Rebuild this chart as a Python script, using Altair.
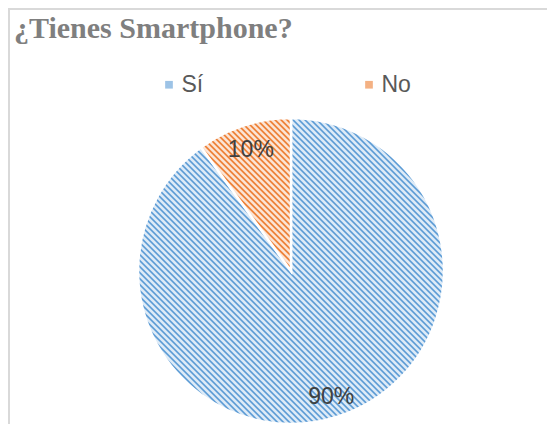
import math
import altair as alt
import pandas as pd

# ---- data ----
title_text = "¿Tienes Smartphone?"
categories = ["Sí", "No"]
values = [90, 10]
labels = ["90%", "10%"]
order = [0, 1]

df = pd.DataFrame({"cat": categories, "value": values, "label": labels, "ord": order})

# ---- styling ----
BLUE_DARK, BLUE_LIGHT = "#5b9bd5", "#deebf7"
ORANGE_DARK, ORANGE_LIGHT = "#ed7d31", "#fbe5d6"
BLUE_MID, ORANGE_MID = "#9dc3e6", "#f4b183"

W = H = 306
R = 153
PAD = {"left": 130, "top": 110, "right": 103, "bottom": 0}


def arc_bbox(a0, a1, r):
    pts = [(0.0, 0.0), (r * math.sin(a0), -r * math.cos(a0)), (r * math.sin(a1), -r * math.cos(a1))]
    for k in range(0, 9):
        a = k * math.pi / 2
        if a0 - 1e-9 <= a <= a1 + 1e-9:
            pts.append((r * math.sin(a), -r * math.cos(a)))
    xs = [p[0] for p in pts]
    ys = [p[1] for p in pts]
    return max(xs) - min(xs), max(ys) - min(ys)


def stripe_gradient(w, h, dark, light, period=6.0):
    lam = (w + h) / (w * w + h * h)
    x2 = lam * w
    y2 = 1 - lam * h
    n = (w + h) / period
    per = 1.0 / n
    profile = [(0.0, light), (0.2, light), (0.45, dark), (0.6, dark), (0.85, light)]
    stops = []
    k = 0
    while k * per < 1.0:
        for frac, col in profile:
            off = (k + frac) * per
            if off <= 1.0:
                stops.append({"offset": round(off, 6), "color": col})
        k += 1
    stops.append({"offset": 1.0, "color": light})
    return {"gradient": "linear", "x1": 0, "y1": 1, "x2": round(x2, 6), "y2": round(y2, 6), "stops": stops}


total = sum(values)
a_si = 2 * math.pi * values[0] / total
w_si, h_si = arc_bbox(0, a_si, R)
w_no, h_no = arc_bbox(a_si, 2 * math.pi, R)
grad_si = stripe_gradient(w_si, h_si, BLUE_DARK, BLUE_LIGHT)
grad_no = stripe_gradient(w_no, h_no, ORANGE_DARK, ORANGE_LIGHT)

base = alt.Chart(df)

theta = alt.Theta("value:Q", stack=True)
ordr = alt.Order("ord:Q")

legend_layer = base.mark_arc(outerRadius=R, stroke="white", strokeWidth=2.5).encode(
    theta=theta,
    order=ordr,
    color=alt.Color(
        "cat:N",
        scale=alt.Scale(domain=categories, range=[BLUE_MID, ORANGE_MID]),
        title=None,
        legend=alt.Legend(
            orient="none",
            legendX=19.5,
            legendY=-45,
            direction="horizontal",
            symbolType="square",
            symbolSize=59,
            symbolStrokeWidth=0,
            labelFont="Liberation Sans",
            labelFontSize=23,
            labelColor="#595959",
            labelOffset=1,
            columnPadding=154,
        ),
    ),
)

pattern_layer = base.mark_arc(outerRadius=R, stroke="white", strokeWidth=2.5).encode(
    theta=theta,
    order=ordr,
    fill=alt.condition("datum.cat === 'Sí'", alt.value(grad_si), alt.value(grad_no)),
)

text_layer = base.mark_text(
    radius=130, dy=2.5, fontSize=23, font="Liberation Sans", color="#404040"
).encode(
    theta=theta,
    order=ordr,
    detail=alt.Detail("cat:N"),
    text=alt.Text("label:N"),
)

title_layer = alt.Chart(alt.Data(values=[{"t": title_text}])).mark_text(
    align="left",
    baseline="alphabetic",
    font="Liberation Serif",
    fontSize=30,
    fontWeight="bold",
    color="#7f7f7f",
).encode(x=alt.value(-124), y=alt.value(-80.5), text=alt.Text("t:N"))

border = alt.Chart(alt.Data(values=[{}])).mark_rect(
    fillOpacity=0, stroke="#d9d9d9", strokeWidth=2
).encode(
    x=alt.value(-129), y=alt.value(-109), x2=alt.value(700), y2=alt.value(700)
)

chart = (
    alt.layer(legend_layer, pattern_layer, text_layer, title_layer, border)
    .properties(width=W, height=H, padding=PAD, autosize="none")
    .configure_view(strokeWidth=0)
)

chart.save("out.html", embed_options={"renderer": "svg", "actions": False})
